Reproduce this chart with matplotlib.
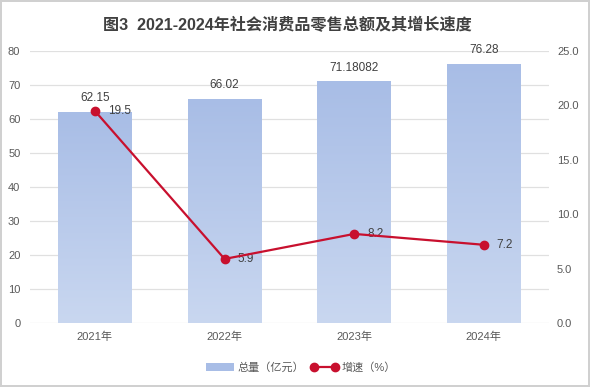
import numpy as np
from matplotlib import pyplot as plt
from matplotlib.colors import LinearSegmentedColormap
from matplotlib.patches import Patch

plt.rcParams['font.family'] = ['Liberation Sans', 'Noto Sans CJK SC', 'DejaVu Sans']

years = ["2021年", "2022年", "2023年", "2024年"]
totals = [62.15, 66.02, 71.18082, 76.28]
total_labels = ["62.15", "66.02", "71.18082", "76.28"]
growth = [19.5, 5.9, 8.2, 7.2]
growth_labels = ["19.5", "5.9", "8.2", "7.2"]

BAR_TOP = "#A8BDE6"
BAR_BOTTOM = "#C9D7F0"
LINE_RED = "#C8102E"
TEXT = "#404040"
TICK = "#595959"

fig = plt.figure(figsize=(5.9, 3.87), dpi=100)
fig.patch.set_edgecolor("#D0D0D0")
fig.patch.set_linewidth(1.5)
ax = fig.add_axes([0.051, 0.165, 0.879, 0.703])
ax2 = ax.twinx()

x = np.arange(len(years))
bars = ax.bar(x, totals, width=0.57, color=BAR_TOP, zorder=2, label="总量（亿元）")

# vertical gradient for each bar
cmap = LinearSegmentedColormap.from_list("bar", [BAR_BOTTOM, BAR_TOP])
grad = np.linspace(0, 1, 256).reshape(-1, 1)
for b in bars:
    x0, y0 = b.get_x(), b.get_y()
    w, h = b.get_width(), b.get_height()
    im = ax.imshow(grad, cmap=cmap, origin="lower", aspect="auto",
                   extent=(x0, x0 + w, y0, y0 + h), zorder=2)
    im.set_clip_path(b)
    b.set_facecolor("none")

for xi, v, lab in zip(x, totals, total_labels):
    ax.text(xi, v + 2.2, lab, ha="center", va="bottom", fontsize=8.5, color=TEXT)

ax.set_xlim(-0.5, 3.5)
ax.set_ylim(0, 80)
ax.set_yticks(range(0, 81, 10))
ax.set_xticks(x)
ax.set_xticklabels(years)
ax.grid(axis="y", color="#E0E0E0", linewidth=0.9, zorder=0)
ax.set_axisbelow(True)
for s in ax.spines.values():
    s.set_visible(False)
ax.tick_params(axis="x", length=0, labelsize=8, colors=TICK, pad=6)
ax.tick_params(axis="y", length=0, labelsize=8, colors=TICK, pad=7)

ax2.plot(x, growth, color=LINE_RED, linewidth=1.6, marker="o", markersize=6,
         zorder=4, label="增速（%）")
for xi, v, lab in zip(x, growth, growth_labels):
    ax2.text(xi + 0.1, v, lab, ha="left", va="center", fontsize=8.5, color=TEXT)
ax2.set_ylim(0, 25)
ax2.set_yticks(np.arange(0, 26, 5))
ax2.set_yticklabels([f"{t:.1f}" for t in np.arange(0, 26, 5)])
for s in ax2.spines.values():
    s.set_visible(False)
ax2.tick_params(length=0, labelsize=8, colors=TICK, pad=6)

fig.text(0.487, 0.935, "图3  2021-2024年社会消费品零售总额及其增长速度",
         ha="center", va="center", fontsize=11.6, fontweight="bold", color="#404040")

h1, l1 = ax.get_legend_handles_labels()
h2, l2 = ax2.get_legend_handles_labels()
fig.legend([Patch(facecolor=BAR_TOP)] + h2, l1 + l2, loc="center",
           bbox_to_anchor=(0.51, 0.05), ncol=2, frameon=False, fontsize=8,
           labelcolor=TICK, handlelength=2.5, columnspacing=0.6, handletextpad=0.3,
           numpoints=2)

fig.savefig("out.png", dpi=100)
